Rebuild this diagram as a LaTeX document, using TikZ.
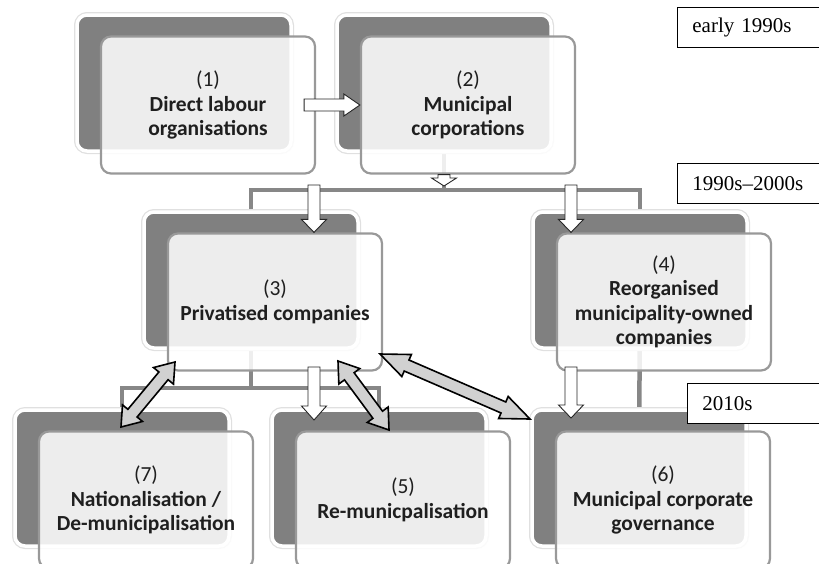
\documentclass[tikz,border=0pt]{standalone}
\usepackage{fontspec}
\setmainfont{Liberation Serif}
\newfontfamily\boxfont{Carlito}
\usepackage{tikz}
\usetikzlibrary{calc}
\colorlet{darkback}{black!50}
\colorlet{frameline}{black!40}
\colorlet{linkgray}{black!47}
\colorlet{arrowgray}{black!18}
\newcommand\shaft{6pt}
% block arrow with one head: from, to, head length, head half width
\newcommand\singlearrow[4]{%
  \coordinate (hb) at ($(#2)!#3!(#1)$);
  \draw[whitearrow] ($(#1)!\shaft!90:(#2)$) -- ($(hb)!\shaft!-90:(#1)$) -- ($(hb)!#4!-90:(#1)$)
    -- (#2) -- ($(hb)!#4!90:(#1)$) -- ($(hb)!\shaft!90:(#1)$) -- ($(#1)!\shaft!-90:(#2)$) -- cycle;}
% block arrow with two heads
\newcommand\doublearrow[4]{%
  \coordinate (ha) at ($(#1)!#3!(#2)$);
  \coordinate (hb) at ($(#2)!#3!(#1)$);
  \draw[grayarrow] (#1) -- ($(ha)!#4!90:(#2)$) -- ($(ha)!\shaft!90:(#2)$) -- ($(hb)!\shaft!-90:(#1)$)
    -- ($(hb)!#4!-90:(#1)$) -- (#2) -- ($(hb)!#4!90:(#1)$) -- ($(hb)!\shaft!90:(#1)$)
    -- ($(ha)!\shaft!-90:(#2)$) -- ($(ha)!#4!-90:(#2)$) -- cycle;}
\tikzset{
  backbox/.style={rounded corners=10pt, fill=darkback, draw=white, line width=3.5pt,
    minimum width=214pt, minimum height=136pt, preaction={draw=black!12, line width=6pt}},
  frontbox/.style={rounded corners=10pt, draw=frameline, line width=2.2pt, fill=white,
    fill opacity=0.86, text opacity=1, minimum width=214pt, minimum height=137pt,
    align=center, font=\boxfont\fontsize{21.5}{24.5}\selectfont, text=black!88},
  link/.style={draw=linkgray, line width=4.5pt},
  whitearrow/.style={fill=white, draw=black!85, line width=0.9pt, line join=miter},
  grayarrow/.style={fill=arrowgray, draw=black, line width=1.6pt, line join=miter},
  period/.style={draw=black, line width=0.8pt, fill=white, anchor=north west, inner xsep=15pt,
    text width=125pt, minimum height=40pt, align=left, font=\fontsize{21}{24}\selectfont}
}
\begin{document}
\begin{tikzpicture}[x=1pt,y=-1pt]
\useasboundingbox (0,0) rectangle (819,563);
% positions of the back boxes
\coordinate (p1) at (184,83);
\coordinate (p2) at (444,83);
\coordinate (p3) at (251,280);
\coordinate (p4) at (640,280);
\coordinate (p7) at (122,478);
\coordinate (p5) at (379,478);
\coordinate (p6) at (639,478);
\coordinate (j2) at (444,190);
\coordinate (j3) at (251,388);

% tree of links behind the boxes
\draw[link] (p2) -- (j2);
\draw[link] (p3) |- (j2) -| (p4);
\draw[link] (p3) -- (j3);
\draw[link] (p7) |- (j3) -| (p5);
\draw[link] (p4) -- (p6);

\foreach \i in {1,...,7}
  \node[backbox] (b\i) at (p\i) {};

\node[frontbox] (f1) at ([shift={(24,22)}]b1.center) {(1)\\\textbf{Direct labour}\\\textbf{organisations}};
\node[frontbox] (f2) at ([shift={(24,22)}]b2.center) {(2)\\\textbf{Municipal}\\\textbf{corporations}};
\node[frontbox] (f3) at ([shift={(24,22)}]b3.center) {(3)\\\textbf{Privatised companies}};
\node[frontbox] (f4) at ([shift={(24,22)}]b4.center) {(4)\\\textbf{Reorganised}\\\textbf{municipality-owned}\\\textbf{companies}};
\node[frontbox] (f5) at ([shift={(24,22)}]b5.center) {(5)\\\textbf{Re-municpalisation}};
\node[frontbox] (f6) at ([shift={(24,22)}]b6.center) {(6)\\\textbf{Municipal corporate}\\\textbf{governance}};
\node[frontbox] (f7) at ([shift={(24,22)}]b7.center) {(7)\\\textbf{Nationalisation /}\\\textbf{De-municipalisation}};

% white arrows
\coordinate (a1s) at ([xshift=-12]f1.east);
\coordinate (a1e) at (f2.west);
\coordinate (a2s) at (b2.center |- f2.south);
\coordinate (a2e) at (444,186);
\coordinate (a3s) at (314,185);
\coordinate (a3e) at (a3s |- f3.north);
\coordinate (a4s) at (571,185);
\coordinate (a4e) at (a4s |- f4.north);
\coordinate (a5s) at (314,367);
\coordinate (a5e) at (314,420);
\coordinate (a6s) at (571,367);
\coordinate (a6e) at (571,418);
\singlearrow{a1s}{a1e}{16pt}{11pt}
\singlearrow{a2s}{a2e}{8pt}{12.5pt}
\singlearrow{a3s}{a3e}{13pt}{12.5pt}
\singlearrow{a4s}{a4e}{13pt}{12.5pt}
\singlearrow{a5s}{a5e}{14pt}{12.5pt}
\singlearrow{a6s}{a6e}{13pt}{12.5pt}

% grey two-way arrows
\coordinate (d1s) at (175,362);
\coordinate (d1e) at (121,427);
\coordinate (d2s) at (338,361);
\coordinate (d2e) at (389,430);
\coordinate (d3s) at (380,354);
\coordinate (d3e) at (530,419);
\doublearrow{d1s}{d1e}{18pt}{13pt}
\doublearrow{d2s}{d2e}{19pt}{13pt}
\doublearrow{d3s}{d3e}{29pt}{12pt}

% periods
\node[period] (t1) at (677,7) {early 1990s};
\node[period] (t2) at (677,163) {1990s--2000s};
\node[period] (t3) at (687,383) {2010s};
\end{tikzpicture}
\end{document}
